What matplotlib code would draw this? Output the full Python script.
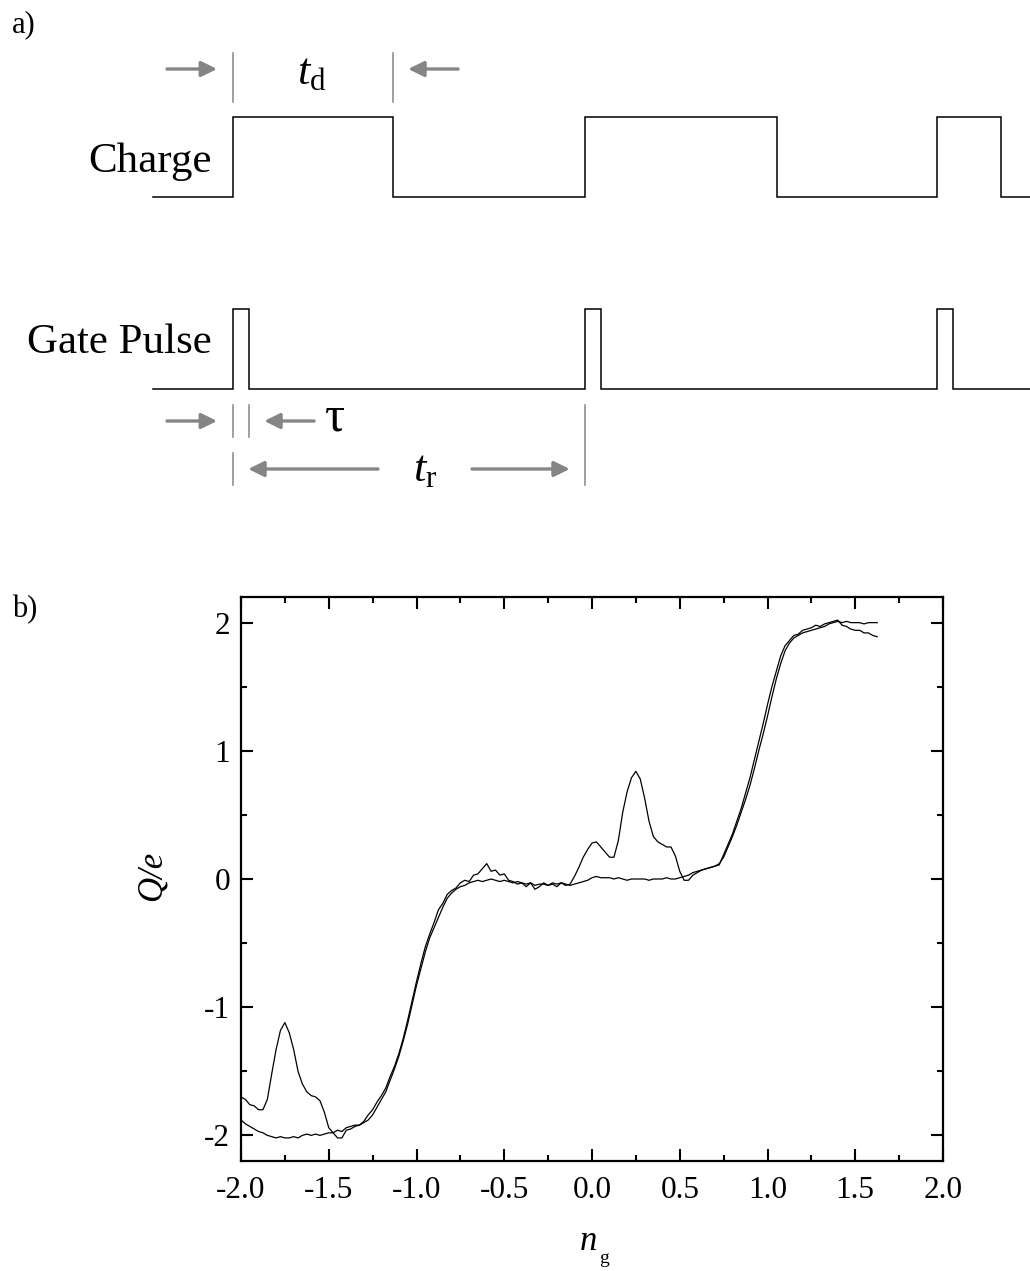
import numpy as np
import matplotlib
matplotlib.use("Agg")
import matplotlib.pyplot as plt
from matplotlib.ticker import MultipleLocator

plt.rcParams["font.family"] = ["Liberation Serif", "DejaVu Serif"]
plt.rcParams["mathtext.fontset"] = "custom"
plt.rcParams["mathtext.rm"] = "Liberation Serif"
plt.rcParams["mathtext.it"] = "Liberation Serif:italic"

# ---------------- timing scheme (times in units of the repetition time t_r) ----
charge_edges = [0.0, 0.4545, 1.0, 1.545, 2.0, 2.182]   # toggles of the charge state
gate_starts = [0.0, 1.0, 2.0]                           # gate pulse onsets
gate_width = 0.0455                                      # tau
t_d = 0.4545                                             # detection time
t_r = 1.0                                                # repetition time

# ---------------- measured charge vs gate charge ----------------
n_g = [-2.000, -1.975, -1.950, -1.925, -1.900, -1.875, -1.850, -1.825, -1.800, -1.775,
       -1.750, -1.725, -1.700, -1.675, -1.650, -1.625, -1.600, -1.575, -1.550, -1.525,
       -1.500, -1.475, -1.450, -1.425, -1.400, -1.375, -1.350, -1.325, -1.300, -1.275,
       -1.250, -1.225, -1.200, -1.175, -1.150, -1.125, -1.100, -1.075, -1.050, -1.025,
       -1.000, -0.975, -0.950, -0.925, -0.900, -0.875, -0.850, -0.825, -0.800, -0.775,
       -0.750, -0.725, -0.700, -0.675, -0.650, -0.625, -0.600, -0.575, -0.550, -0.525,
       -0.500, -0.475, -0.450, -0.425, -0.400, -0.375, -0.350, -0.325, -0.300, -0.275,
       -0.250, -0.225, -0.200, -0.175, -0.150, -0.125, -0.100, -0.075, -0.050, -0.025,
       0.000, 0.025, 0.050, 0.075, 0.100, 0.125, 0.150, 0.175, 0.200, 0.225,
       0.250, 0.275, 0.300, 0.325, 0.350, 0.375, 0.400, 0.425, 0.450, 0.475,
       0.500, 0.525, 0.550, 0.575, 0.600, 0.625, 0.650, 0.675, 0.700, 0.725,
       0.750, 0.775, 0.800, 0.825, 0.850, 0.875, 0.900, 0.925, 0.950, 0.975,
       1.000, 1.025, 1.050, 1.075, 1.100, 1.125, 1.150, 1.175, 1.200, 1.225,
       1.250, 1.275, 1.300, 1.325, 1.350, 1.375, 1.400, 1.425, 1.450, 1.475,
       1.500, 1.525, 1.550, 1.575, 1.600, 1.625]

# trace without the extra peaks
q_clean = [-1.88, -1.91, -1.93, -1.95, -1.97, -1.98, -2.00, -2.01, -2.02, -2.01,
           -2.02, -2.02, -2.01, -2.02, -2.00, -1.99, -2.00, -1.99, -2.00, -1.99,
           -1.98, -1.98, -1.96, -1.97, -1.94, -1.93, -1.92, -1.92, -1.90, -1.88,
           -1.84, -1.78, -1.72, -1.66, -1.57, -1.48, -1.38, -1.26, -1.13, -0.98,
           -0.83, -0.70, -0.57, -0.46, -0.38, -0.30, -0.22, -0.15, -0.11, -0.08,
           -0.06, -0.05, -0.03, -0.02, -0.01, -0.02, -0.01, 0.00, -0.01, -0.02,
           -0.01, -0.02, -0.03, -0.02, -0.03, -0.04, -0.03, -0.05, -0.04, -0.04,
           -0.05, -0.03, -0.04, -0.03, -0.04, -0.05, -0.04, -0.03, -0.02, -0.01,
           0.01, 0.02, 0.01, 0.01, 0.01, 0.00, 0.01, 0.00, -0.01, 0.00,
           0.00, 0.00, 0.00, -0.01, 0.00, 0.00, 0.00, 0.01, 0.00, 0.00,
           0.01, 0.02, 0.03, 0.05, 0.06, 0.07, 0.08, 0.09, 0.10, 0.12,
           0.17, 0.25, 0.33, 0.42, 0.52, 0.62, 0.73, 0.86, 1.00, 1.13,
           1.27, 1.42, 1.56, 1.68, 1.78, 1.84, 1.88, 1.90, 1.92, 1.93,
           1.94, 1.95, 1.96, 1.97, 1.99, 2.00, 2.01, 2.00, 2.01, 2.00,
           2.00, 2.00, 1.99, 2.00, 2.00, 2.00]

# trace showing the extra peaks
q_peaks = [-1.70, -1.72, -1.76, -1.77, -1.80, -1.80, -1.72, -1.52, -1.33, -1.18,
           -1.12, -1.20, -1.33, -1.50, -1.60, -1.66, -1.69, -1.70, -1.73, -1.82,
           -1.94, -1.98, -2.02, -2.02, -1.96, -1.95, -1.93, -1.92, -1.89, -1.84,
           -1.80, -1.74, -1.69, -1.63, -1.54, -1.46, -1.36, -1.24, -1.10, -0.95,
           -0.80, -0.66, -0.53, -0.43, -0.34, -0.24, -0.19, -0.12, -0.09, -0.07,
           -0.03, -0.01, -0.02, 0.03, 0.04, 0.08, 0.12, 0.06, 0.07, 0.03,
           0.04, -0.01, -0.02, -0.04, -0.03, -0.06, -0.03, -0.08, -0.06, -0.03,
           -0.05, -0.04, -0.06, -0.03, -0.05, -0.04, 0.02, 0.09, 0.17, 0.23,
           0.28, 0.29, 0.25, 0.21, 0.17, 0.17, 0.30, 0.52, 0.68, 0.79,
           0.84, 0.78, 0.63, 0.45, 0.33, 0.29, 0.27, 0.25, 0.25, 0.18,
           0.06, -0.01, -0.01, 0.03, 0.05, 0.07, 0.08, 0.09, 0.10, 0.11,
           0.19, 0.27, 0.35, 0.45, 0.55, 0.67, 0.79, 0.93, 1.07, 1.21,
           1.36, 1.50, 1.62, 1.74, 1.82, 1.86, 1.90, 1.91, 1.94, 1.95,
           1.96, 1.98, 1.97, 1.99, 2.00, 2.01, 2.02, 1.98, 1.97, 1.95,
           1.94, 1.94, 1.92, 1.92, 1.90, 1.89]

x_ticks = [-2.0, -1.5, -1.0, -0.5, 0.0, 0.5, 1.0, 1.5, 2.0]
y_ticks = [-2, -1, 0, 1, 2]

W, H = 1030, 1271
fig = plt.figure(figsize=(W / 100, H / 100), dpi=100)

# ---------------- panel a: pulse scheme ----------------
top_px = 540
axa = fig.add_axes([0, 1 - top_px / H, 1, top_px / H])
axa.set_xlim(-233 / 352, (W - 233) / 352)
axa.set_ylim(top_px, 0)
axa.axis("off")

t_begin = -80 / 352
t_end = (W - 233) / 352
charge_low, charge_high = 197, 117
gate_low, gate_high = 389, 309


def square_wave(edges, t0, t1, low, high):
    xs, ys = [t0], [low]
    level = low
    for e in edges:
        xs += [e, e]
        new = high if level == low else low
        ys += [level, new]
        level = new
    xs.append(t1)
    ys.append(level)
    return xs, ys


cx, cy = square_wave(charge_edges, t_begin, t_end, charge_low, charge_high)
axa.plot(cx, cy, color="black", lw=1.1, solid_joinstyle="miter")

gate_edges = []
for s in gate_starts:
    gate_edges += [s, s + gate_width]
gx, gy = square_wave(gate_edges, t_begin, t_end, gate_low, gate_high)
axa.plot(gx, gy, color="black", lw=1.1, solid_joinstyle="miter")

axa.text(-21 / 352, 162, "Charge", fontsize=31, ha="right", va="center")
axa.text(-21 / 352, 343, "Gate Pulse", fontsize=31, ha="right", va="center")

grey = "#858585"
arrow_kw = dict(arrowstyle="-|>,head_length=0.45,head_width=0.22", color=grey,
                lw=2.4, mutation_scale=21, shrinkA=0, shrinkB=0)


def arrow(t_from, t_to, y):
    axa.annotate("", xy=(t_to, y), xytext=(t_from, y), arrowprops=arrow_kw)


def marker(t, y0, y1):
    axa.plot([t, t], [y0, y1], color=grey, lw=1.1)


# t_d markers
marker(0.0, 53, 102)
marker(t_d, 53, 102)
arrow(-0.1875, -0.045, 69)
arrow(t_d + 0.185, t_d + 0.043, 69)
axa.text(0.224, 73, r"$t_\mathrm{d}$", fontsize=32, ha="center", va="center")

# tau markers
marker(0.0, 405, 437)
marker(gate_width, 405, 437)
arrow(-0.1875, -0.045, 421)
arrow(gate_width + 0.185, gate_width + 0.043, 421)
axa.text(0.29, 418, "\u03c4", fontsize=36, ha="center", va="center")

# t_r markers
marker(0.0, 453, 485)
marker(t_r, 405, 485)
arrow(0.412, 0.043, 469)
arrow(0.679, t_r - 0.043, 469)
axa.text(0.545, 470, r"$t_\mathrm{r}$", fontsize=32, ha="center", va="center")

fig.text(12 / W, 1 - 25 / H, "a)", fontsize=22, ha="left", va="center")
fig.text(12 / W, 1 - 610 / H, "b)", fontsize=22, ha="left", va="center")

# ---------------- panel b: charge vs n_g ----------------
axb = fig.add_axes([241 / W, 1 - 1161 / H, (943 - 241) / W, (1161 - 597) / H])
axb.plot(n_g, q_clean, color="black", lw=0.9)
axb.plot(n_g, q_peaks, color="black", lw=0.9)
axb.set_xlim(-2.0, 2.0)
axb.set_ylim(-2.2, 2.2)
axb.set_xticks(x_ticks)
axb.set_xticklabels([f"{v:.1f}" for v in x_ticks])
axb.set_yticks(y_ticks)
axb.set_yticklabels([str(v) for v in y_ticks])
axb.xaxis.set_minor_locator(MultipleLocator(0.25))
axb.yaxis.set_minor_locator(MultipleLocator(0.5))
axb.tick_params(which="both", direction="in", top=True, right=True, width=1.5,
                labelsize=22.5)
axb.tick_params(which="major", length=8.5)
axb.tick_params(which="minor", length=4.5)
axb.tick_params(axis="x", pad=11)
axb.tick_params(axis="y", pad=8)
for sp in axb.spines.values():
    sp.set_linewidth(1.6)

fig.text(152 / W, 1 - 876 / H, "Q/e", fontsize=25, style="italic",
         rotation=90, ha="center", va="center")
fig.text(588 / W, 1 - 1250 / H, "n", fontsize=25, style="italic",
         ha="center", va="baseline")
fig.text(604 / W, 1 - 1250 / H, "g", fontsize=14, ha="center", va="top")

fig.savefig("out.png", dpi=100)
